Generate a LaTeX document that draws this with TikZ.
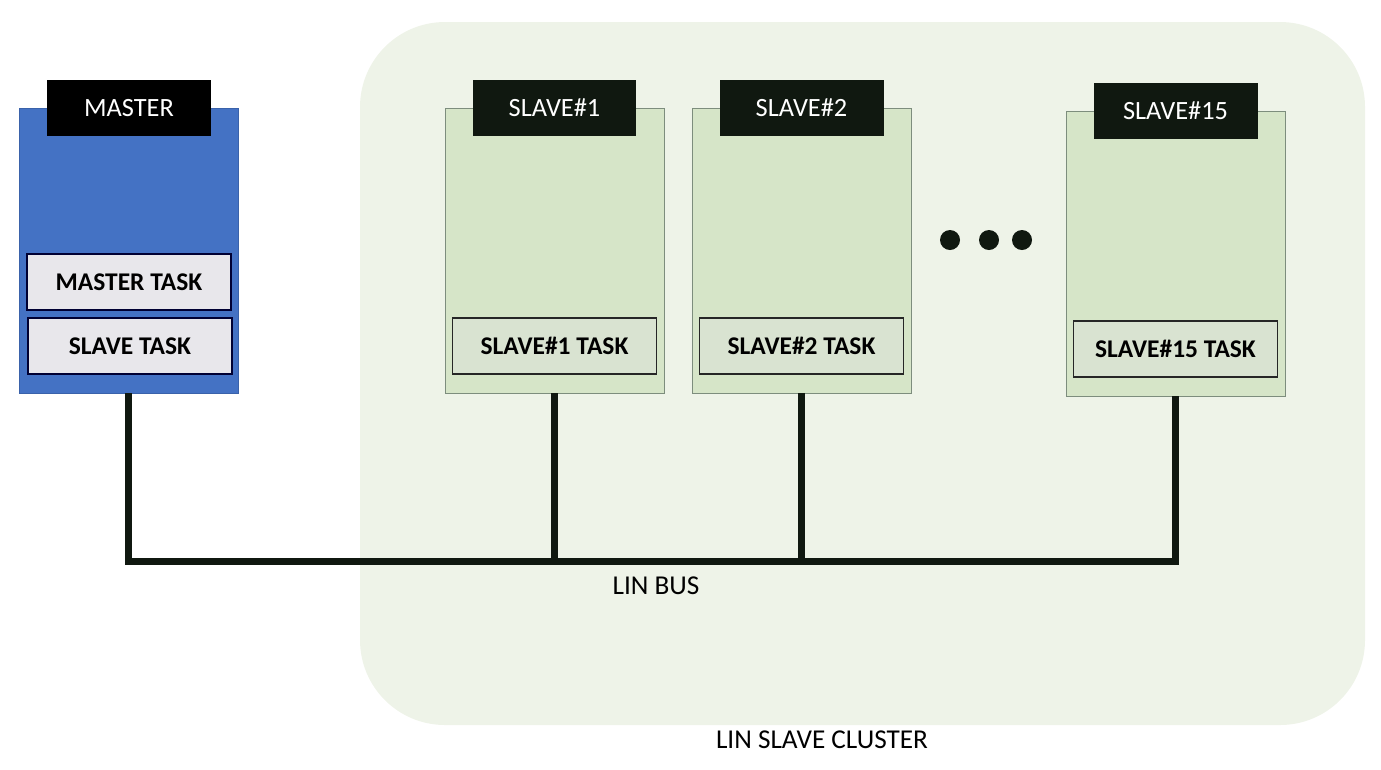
\documentclass[tikz,border=0pt]{standalone}
\usepackage{fontspec}
\setmainfont{Carlito}
\usepackage{tikz}
\usetikzlibrary{positioning, calc}
\definecolor{cluster}{HTML}{EEF3E8}
\definecolor{masterblue}{HTML}{4472C4}
\definecolor{masteredge}{HTML}{3A62AA}
\definecolor{slavefill}{HTML}{D6E5C8}
\definecolor{slaveedge}{HTML}{7D8D7D}
\definecolor{taskgrey}{HTML}{E8E7EB}
\definecolor{taskgreen}{HTML}{D9E3D1}
\definecolor{tagdark}{HTML}{101810}

\tikzset{
  unitbox/.style={draw, minimum width=4.38cm, minimum height=5.7cm, inner sep=0pt},
  tagbox/.style={fill=tagdark, text=white, minimum width=3.28cm, minimum height=1.12cm,
    inner sep=0pt, font=\fontsize{15}{17}\selectfont},
  taskbox/.style={draw, line width=0.8pt, minimum width=4.08cm, minimum height=1.12cm,
    inner sep=0pt, font=\fontsize{14.5}{17}\selectfont\bfseries},
  bus/.style={line width=4pt, color=tagdark},
  caption/.style={font=\fontsize{15.5}{18}\selectfont}
}

\begin{document}
\begin{tikzpicture}[x=0.02cm, y=-0.02cm]
\useasboundingbox (0,0) rectangle (1381,769);
% cluster background
\fill[cluster, rounded corners=1.7cm] (360,22) rectangle (1365,725);
\node[caption] (cluster) at (822,740) {LIN SLAVE CLUSTER};

% master node
\node[unitbox, fill=masterblue, draw=masteredge] (master) at (128.5,250.5) {};
\node[tagbox, fill=black] (mtag) at (129,108) {MASTER};
\node[taskbox, fill=taskgrey, draw=black!80!blue] (mtask) at (129,282) {MASTER TASK};
\node[taskbox, fill=taskgrey, draw=black!80!blue] (stask) at (130,346) {SLAVE TASK};

% slave nodes
\foreach \n/\x/\y in {1/554.5/250.5, 2/801.5/250.5, 15/1175.5/253.5}{
    \node[unitbox, fill=slavefill, draw=slaveedge] (s\n) at (\x,\y) {};
    \node[tagbox] (s\n tag) at (\x,\y-142.5) {SLAVE\#\n};
    \node[taskbox, fill=taskgreen, draw=black!85] (s\n task) at (\x,\y+95.5) {SLAVE\#\n{} TASK};
}

% dots between slaves
\foreach \x in {950, 989, 1022}
    \fill[tagdark] (\x,240) circle (0.2cm);

% bus lines
\coordinate (busline) at (0,561);
\draw[bus] (master.south) |- (busline -| s15.south) -- (s15.south);
\foreach \n in {1,2}
    \draw[bus] (s\n.south) -- (s\n.south |- busline);
\node[caption] (busname) at (656,586) {LIN BUS};
\end{tikzpicture}
\end{document}
